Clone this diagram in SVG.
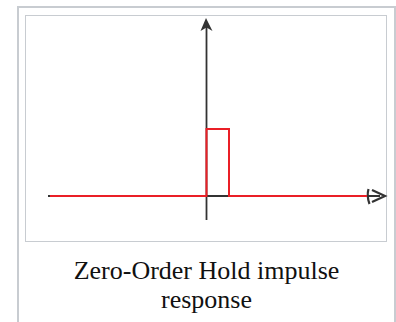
<svg xmlns="http://www.w3.org/2000/svg" width="396" height="322" viewBox="0 0 396 322">
<style>
.frame{fill:none;stroke:#c8ccd1}
.axis{fill:none;stroke:#333;stroke-width:1.8}
.sig{fill:none;stroke:#ea1f26;stroke-width:2}
.head{fill:#333;stroke:none}
.harrow{fill:none;stroke:#333;stroke-width:2.2}
.cap{font-family:"Liberation Serif","Times New Roman",serif;font-size:26px;fill:#111;text-anchor:middle}
</style>
<rect width="396" height="322" fill="#fff"/>
<path class="frame" stroke-width="2" d="M18,322 V7 H395 V322"/>
<rect class="frame" x="25.5" y="15.5" width="361" height="226" fill="#fff"/>
<g id="axes">
<line class="axis" x1="206.5" y1="24" x2="206.5" y2="220"/>
<line class="axis" x1="48" y1="196" x2="380" y2="196"/>
<path class="head" d="M206,18 L212.5,31 L206.5,27.5 L200.5,31 Z"/>
<path class="harrow" d="M368.5,189 Q366.5,196 369.5,204"/>
<path class="harrow" d="M372,190 L385,196 L372,202"/>
</g>
<g id="signal">
<polyline class="sig" points="50,196 206.5,196 206.5,129 229,129 229,196 367,196"/>
<line class="axis" x1="208" y1="196" x2="228" y2="196"/>
</g>
<g id="caption">
<text class="cap" x="206.5" y="279">Zero-Order Hold impulse</text>
<text class="cap" x="206.5" y="308">response</text>
</g>
</svg>
